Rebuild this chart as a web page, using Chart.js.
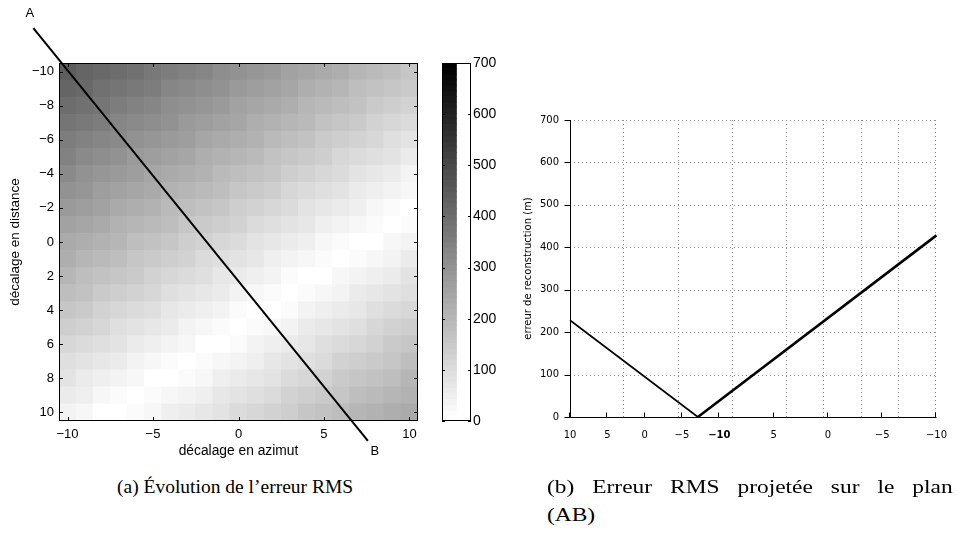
<!DOCTYPE html>
<html>
<head>
<meta charset="utf-8">
<script src="https://cdn.jsdelivr.net/npm/chart.js@4.4.1/dist/chart.umd.min.js"></script>
<style>
  html, body { margin: 0; padding: 0; background: #fff; }
  body { width: 959px; height: 533px; position: relative; overflow: hidden; }
  canvas { position: absolute; }
  #heat { left: 0; top: 0; }
  #cbar { left: 420px; top: 0; }
  #proj { left: 500px; top: 0; }
  .cap { position: absolute; font-family: "Liberation Serif", "DejaVu Serif", serif; font-size: 19.5px; line-height: 28px; color: #000; white-space: nowrap; }
  .wide { transform: scaleX(1.2); transform-origin: 0 0; }
  .just { text-align: justify; text-align-last: justify; }
</style>
</head>
<body>
<canvas id="heat" width="440" height="470"></canvas>
<canvas id="cbar" width="100" height="470"></canvas>
<canvas id="proj" width="459" height="470"></canvas>
<div class="cap" style="left:117px;top:473px;">(a) Évolution de l’erreur RMS</div>
<div class="cap wide just" style="left:547px;top:473px;width:338px;">(b) Erreur RMS projetée sur le plan</div>
<div class="cap wide" style="left:547px;top:501px;">(AB)</div>

<script>
// --- (a) RMS error map ---
const azimut = [-10, -9, -8, -7, -6, -5, -4, -3, -2, -1, 0, 1, 2, 3, 4, 5, 6, 7, 8, 9, 10];
const distance = [-10, -9, -8, -7, -6, -5, -4, -3, -2, -1, 0, 1, 2, 3, 4, 5, 6, 7, 8, 9, 10];
// one row per "décalage en distance", columns follow azimut
const rmsRows = [
  [440, 426, 412, 399, 385, 371, 357, 343, 330, 316, 302, 288, 274, 261, 247, 233, 219, 205, 192, 178, 164],
  [420, 406, 392, 379, 365, 351, 337, 323, 310, 296, 282, 268, 254, 241, 227, 213, 199, 185, 172, 158, 144],
  [400, 386, 372, 358, 345, 331, 317, 303, 289, 276, 262, 248, 234, 220, 207, 193, 179, 165, 151, 138, 124],
  [380, 366, 352, 338, 325, 311, 297, 283, 269, 256, 242, 228, 214, 200, 187, 173, 159, 145, 131, 118, 104],
  [360, 346, 332, 318, 304, 291, 277, 263, 249, 235, 222, 208, 194, 180, 166, 153, 139, 125, 111, 97, 84],
  [340, 326, 312, 298, 284, 271, 257, 243, 229, 215, 202, 188, 174, 160, 146, 133, 119, 105, 91, 77, 64],
  [319, 306, 292, 278, 264, 250, 237, 223, 209, 195, 181, 168, 154, 140, 126, 112, 99, 85, 71, 57, 43],
  [299, 286, 272, 258, 244, 230, 217, 203, 189, 175, 161, 148, 134, 120, 106, 92, 79, 65, 51, 37, 23],
  [279, 265, 252, 238, 224, 210, 196, 183, 169, 155, 141, 127, 114, 100, 86, 72, 58, 45, 31, 17, 3],
  [259, 245, 232, 218, 204, 190, 176, 163, 149, 135, 121, 107, 94, 80, 66, 52, 38, 25, 11, 3, 17],
  [239, 225, 211, 198, 184, 170, 156, 142, 129, 115, 101, 87, 73, 60, 46, 32, 18, 4, 9, 23, 37],
  [219, 205, 191, 178, 164, 150, 136, 122, 109, 95, 81, 67, 53, 40, 26, 12, 2, 16, 30, 43, 57],
  [199, 185, 171, 157, 144, 130, 116, 102, 88, 75, 61, 47, 33, 19, 6, 8, 22, 36, 50, 63, 77],
  [179, 165, 151, 137, 124, 110, 96, 82, 68, 55, 41, 27, 13, 1, 15, 28, 42, 56, 70, 84, 97],
  [159, 145, 131, 117, 103, 90, 76, 62, 48, 34, 21, 7, 7, 21, 35, 48, 62, 76, 90, 104, 117],
  [139, 125, 111, 97, 83, 70, 56, 42, 28, 14, 1, 13, 27, 41, 55, 69, 82, 96, 110, 124, 138],
  [118, 105, 91, 77, 63, 49, 36, 22, 8, 6, 20, 33, 47, 61, 75, 89, 102, 116, 130, 144, 158],
  [98, 85, 71, 57, 43, 29, 16, 2, 12, 26, 40, 54, 67, 81, 95, 109, 123, 136, 150, 164, 178],
  [78, 64, 51, 37, 23, 9, 5, 18, 32, 46, 60, 74, 87, 101, 115, 129, 143, 156, 170, 184, 198],
  [58, 44, 31, 17, 3, 11, 25, 39, 52, 66, 80, 94, 108, 121, 135, 149, 163, 177, 190, 204, 218],
  [38, 24, 10, 3, 17, 31, 45, 59, 72, 86, 100, 114, 128, 141, 155, 169, 183, 197, 210, 224, 238]
];
const azimutTicks = [-10, -5, 0, 5, 10];
const distanceTicks = [-10, -8, -6, -4, -2, 0, 2, 4, 6, 8, 10];
const cbarTicks = [0, 100, 200, 300, 400, 500, 600, 700];
// cut line (AB) in map coordinates
const lineAB = [{ x: -12.0, y: -12.55 }, { x: 7.57, y: 11.67 }];
const labelA = { x: -12.2, y: -13.4 };
const labelB = { x: 7.98, y: 12.3 };

// --- (b) error along (AB) ---
const projPos = [0, 34.9, 100];
const projErr = [228, 0, 428];
const projTickPos = [0, 10.19, 20.37, 30.56, 40.74, 55.56, 70.37, 85.19, 100];
const projTickLabels = ['10', '5', '0', '−5', '−10', '5', '0', '−5', '−10'];
const projGridPos = [14.81, 29.63, 44.44, 59.26, 69.44, 79.63, 89.81, 100];
const errTicks = [0, 100, 200, 300, 400, 500, 600, 700];

const CMAX = 700;
Chart.defaults.font.family = '"Liberation Sans", Arial, sans-serif';
Chart.defaults.color = '#000';

// flipped 64-level gray colormap
function grayOf(v) {
  const lvl = Math.min(63, Math.floor(v / CMAX * 64));
  const g = Math.round(255 * (1 - lvl / 63));
  return `rgb(${g},${g},${g})`;
}
const minus = v => String(v).replace('-', '−');

function seg(ctx, x1, y1, x2, y2) {
  ctx.beginPath();
  ctx.moveTo(x1, y1);
  ctx.lineTo(x2, y2);
  ctx.stroke();
}

const cells = [];
const cellColors = [];
distance.forEach((d, j) => {
  azimut.forEach((a, i) => {
    cells.push({ x: a, y: [d - 0.5, d + 0.5] });
    cellColors.push(grayOf(rmsRows[j][i]));
  });
});

const heatFrame = {
  id: 'heatFrame',
  afterDatasetsDraw(chart) {
    const { ctx, chartArea: a, scales: { x, y } } = chart;
    ctx.save();
    ctx.strokeStyle = '#000';
    ctx.lineWidth = 1;
    ctx.strokeRect(a.left + 0.5, a.top + 0.5, a.width - 1, a.height - 1);
    azimutTicks.forEach(v => {
      const px = Math.round(x.getPixelForValue(v)) + 0.5;
      seg(ctx, px, a.bottom, px, a.bottom - 4);
      seg(ctx, px, a.top, px, a.top + 4);
    });
    distanceTicks.forEach(v => {
      const py = Math.round(y.getPixelForValue(v)) + 0.5;
      seg(ctx, a.left, py, a.left + 4, py);
      seg(ctx, a.right, py, a.right - 4, py);
    });
    ctx.fillStyle = '#000';
    ctx.font = '13px "Liberation Sans", Arial, sans-serif';
    ctx.textAlign = 'center';
    ctx.textBaseline = 'middle';
    ctx.fillText('A', x.getPixelForValue(labelA.x), y.getPixelForValue(labelA.y));
    ctx.fillText('B', x.getPixelForValue(labelB.x), y.getPixelForValue(labelB.y));
    ctx.restore();
  }
};

new Chart(document.getElementById('heat'), {
  type: 'bar',
  data: {
    datasets: [
      { type: 'line', data: lineAB, borderColor: '#000', borderWidth: 2, pointRadius: 0, clip: false, order: 0 },
      { data: cells, backgroundColor: cellColors, borderWidth: 0, barPercentage: 1, categoryPercentage: 1, order: 1 }
    ]
  },
  options: {
    responsive: false,
    animation: false,
    events: [],
    layout: { padding: { left: 0, top: 63, right: 22, bottom: 0 } },
    plugins: { legend: { display: false }, tooltip: { enabled: false } },
    scales: {
      x: {
        type: 'linear', min: -10.5, max: 10.5, offset: false,
        grid: { display: false, drawTicks: false }, border: { display: false },
        afterBuildTicks: s => { s.ticks = azimutTicks.map(v => ({ value: v })); },
        afterFit: s => { s.height = 49; },
        ticks: { padding: 6, callback: minus, font: { size: 13 }, maxRotation: 0, autoSkip: false },
        title: { display: true, text: 'décalage en azimut', font: { size: 13.8 }, padding: { top: 0, bottom: 11 } }
      },
      y: {
        type: 'linear', reverse: true, min: -10.5, max: 10.5,
        grid: { display: false, drawTicks: false }, border: { display: false },
        afterBuildTicks: s => { s.ticks = distanceTicks.map(v => ({ value: v })); },
        afterFit: s => { s.width = 59; },
        ticks: { padding: 5, callback: minus, font: { size: 13 }, autoSkip: false },
        title: { display: true, text: 'décalage en distance', font: { size: 13.5 }, padding: { top: 7, bottom: 0 } }
      }
    }
  },
  plugins: [heatFrame]
});

// --- colorbar ---
const cbarBars = [];
const cbarColors = [];
for (let i = 0; i < 64; i++) {
  cbarBars.push({ x: 'c', y: [CMAX * i / 64, CMAX * (i + 1) / 64] });
  cbarColors.push(grayOf(CMAX * (i + 0.5) / 64));
}

const cbarFrame = {
  id: 'cbarFrame',
  afterDatasetsDraw(chart) {
    const { ctx, chartArea: a, scales: { y } } = chart;
    ctx.save();
    ctx.strokeStyle = '#000';
    ctx.lineWidth = 1;
    ctx.strokeRect(a.left + 0.5, a.top + 0.5, a.width - 1, a.height - 1);
    cbarTicks.forEach(v => {
      const py = Math.round(y.getPixelForValue(v)) + 0.5;
      seg(ctx, a.left, py, a.left + 3, py);
      seg(ctx, a.right, py, a.right - 3, py);
    });
    ctx.restore();
  }
};

new Chart(document.getElementById('cbar'), {
  type: 'bar',
  data: {
    labels: ['c'],
    datasets: [{ data: cbarBars, backgroundColor: cbarColors, borderWidth: 0, barPercentage: 1, categoryPercentage: 1 }]
  },
  options: {
    responsive: false,
    animation: false,
    events: [],
    layout: { padding: { left: 22, top: 63, right: 0, bottom: 49 } },
    plugins: { legend: { display: false }, tooltip: { enabled: false } },
    scales: {
      x: { display: false, offset: false },
      y: {
        position: 'right', min: 0, max: CMAX,
        grid: { display: false, drawTicks: false }, border: { display: false },
        afterBuildTicks: s => { s.ticks = cbarTicks.map(v => ({ value: v })); },
        afterFit: s => { s.width = 49; },
        ticks: { padding: 2, font: { size: 14 } }
      }
    }
  },
  plugins: [cbarFrame]
});

// --- (b) projection on (AB) ---
const projFrame = {
  id: 'projFrame',
  beforeDatasetsDraw(chart) {
    const { ctx, chartArea: a, scales: { x, y } } = chart;
    ctx.save();
    ctx.strokeStyle = '#8c8c8c';
    ctx.lineWidth = 1;
    ctx.setLineDash([1, 3]);
    errTicks.filter(v => v > 0).forEach(v => {
      const py = Math.round(y.getPixelForValue(v)) + 0.5;
      seg(ctx, a.left, py, a.right, py);
    });
    projGridPos.forEach(p => {
      const px = Math.round(x.getPixelForValue(p)) - 0.5;
      seg(ctx, px, a.top, px, a.bottom);
    });
    ctx.restore();
  },
  afterDatasetsDraw(chart) {
    const { ctx, chartArea: a, scales: { x, y } } = chart;
    ctx.save();
    ctx.strokeStyle = '#000';
    ctx.lineWidth = 1;
    const left = Math.round(a.left) + 0.5;
    const bottom = Math.round(a.bottom) + 0.5;
    seg(ctx, left, a.top, left, bottom);
    seg(ctx, left, bottom, a.right, bottom);
    errTicks.forEach(v => {
      const py = Math.round(y.getPixelForValue(v)) + 0.5;
      seg(ctx, left - 6, py, left, py);
    });
    projTickPos.forEach(p => {
      const px = Math.round(x.getPixelForValue(p)) - 0.5;
      seg(ctx, px, bottom, px, bottom - 5);
    });
    ctx.restore();
  }
};

const projFont = { family: '"DejaVu Sans", sans-serif', size: 10 };

new Chart(document.getElementById('proj'), {
  type: 'line',
  data: {
    datasets: [{
      data: projPos.map((p, i) => ({ x: p, y: projErr[i] })),
      borderColor: '#000', borderWidth: 2, pointRadius: 0, clip: false,
      segment: { borderWidth: c => (c.p0DataIndex === 0 ? 1.6 : 2.6) }
    }]
  },
  options: {
    responsive: false,
    animation: false,
    events: [],
    layout: { padding: { left: 0, top: 120, right: 11, bottom: 0 } },
    plugins: { legend: { display: false }, tooltip: { enabled: false } },
    scales: {
      x: {
        type: 'linear', min: 0, max: 100,
        grid: { display: false, drawTicks: false }, border: { display: false },
        afterBuildTicks: s => { s.ticks = projTickPos.map(v => ({ value: v })); },
        afterFit: s => { s.height = 53; },
        ticks: {
          padding: 12, maxRotation: 0, autoSkip: false,
          callback: (v, i) => projTickLabels[i],
          font: c => ({ ...projFont, weight: c.index === 4 ? 'bold' : 'normal' })
        }
      },
      y: {
        min: 0, max: 700,
        grid: { display: false, drawTicks: false }, border: { display: false },
        afterBuildTicks: s => { s.ticks = errTicks.map(v => ({ value: v })); },
        afterFit: s => { s.width = 70; },
        ticks: { padding: 11, font: projFont },
        title: {
          display: true, text: 'erreur de reconstruction (m)',
          font: projFont, padding: { top: 22, bottom: 0 }
        }
      }
    }
  },
  plugins: [projFrame]
});
</script>
</body>
</html>
